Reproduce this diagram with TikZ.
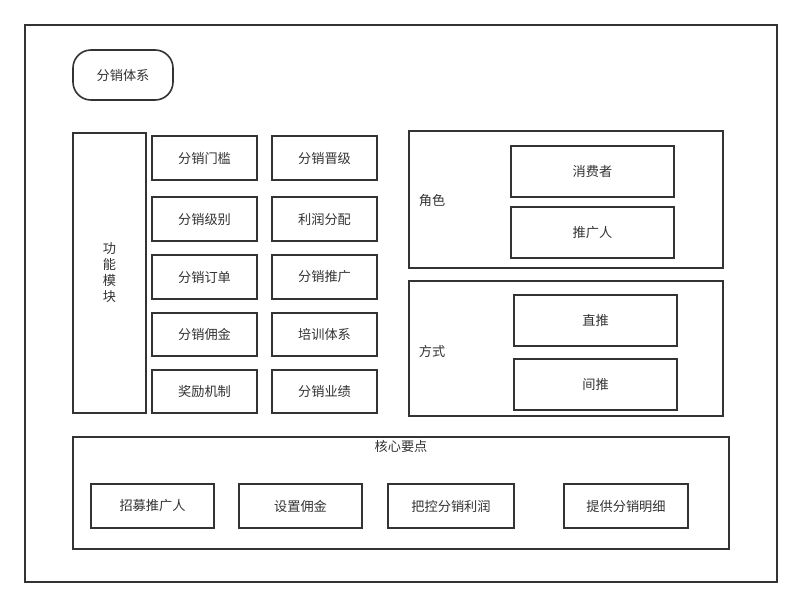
\documentclass[tikz,border=0pt]{standalone}
\usepackage{fontspec}
\setmainfont{Noto Sans CJK SC}
\begin{document}
\begin{tikzpicture}[x=1pt,y=-1pt,
  font=\fontsize{13.2}{16}\selectfont,
  every node/.style={text=black!80},
  box/.style={draw=black!80, line width=1.6pt, inner sep=0pt, fill=white},
  lbl/.style={inner sep=0pt}]
\useasboundingbox (0,0) rectangle (802,608);
\fill[white] (0,0) rectangle (802,608);
\node[box, minimum width=752pt, minimum height=557pt] (frame) at (401,303.5) {};
\node[box, rounded corners=18pt, minimum width=100pt, minimum height=50pt] (title) at (123,75) {分销体系};
\node[box, minimum width=73pt, minimum height=280pt, align=center] (func) at (109.5,273) {功\\能\\模\\块};
% grid
\node[box, minimum width=105pt, minimum height=44pt] (a1) at (204.5,158) {分销门槛};
\node[box, minimum width=105pt, minimum height=44pt] (b1) at (324.5,158) {分销晋级};
\node[box, minimum width=105pt, minimum height=44pt] (a2) at (204.5,219) {分销级别};
\node[box, minimum width=105pt, minimum height=44pt] (b2) at (324.5,219) {利润分配};
\node[box, minimum width=105pt, minimum height=44pt] (a3) at (204.5,277) {分销订单};
\node[box, minimum width=105pt, minimum height=44pt] (b3) at (324.5,277) {分销推广};
\node[box, minimum width=105pt, minimum height=43pt] (a4) at (204.5,334.5) {分销佣金};
\node[box, minimum width=105pt, minimum height=43pt] (b4) at (324.5,334.5) {培训体系};
\node[box, minimum width=105pt, minimum height=43pt] (a5) at (204.5,391.5) {奖励机制};
\node[box, minimum width=105pt, minimum height=43pt] (b5) at (324.5,391.5) {分销业绩};
% roles
\node[box, minimum width=314pt, minimum height=137pt] (role) at (566,199.5) {};
\node[lbl] (rolelbl) at (432,201) {角色};
\node[box, minimum width=163pt, minimum height=51pt] (r1) at (592.5,171.5) {消费者};
\node[box, minimum width=163pt, minimum height=51pt] (r2) at (592.5,232.5) {推广人};
% ways
\node[box, minimum width=314pt, minimum height=135pt] (way) at (566,348.5) {};
\node[lbl] (waylbl) at (432,351) {方式};
\node[box, minimum width=163pt, minimum height=51pt] (w1) at (595.5,320.5) {直推};
\node[box, minimum width=163pt, minimum height=51pt] (w2) at (595.5,384.5) {间推};
% core
\node[box, minimum width=656pt, minimum height=112pt] (core) at (401,493) {};
\node[lbl] (corelbl) at (401,446) {核心要点};
\node[box, minimum width=123pt, minimum height=44pt] (c1) at (152.5,506) {招募推广人};
\node[box, minimum width=123pt, minimum height=44pt] (c2) at (300.5,506) {设置佣金};
\node[box, minimum width=126pt, minimum height=44pt] (c3) at (451,506) {把控分销利润};
\node[box, minimum width=124pt, minimum height=44pt] (c4) at (626,506) {提供分销明细};
\end{tikzpicture}
\end{document}
